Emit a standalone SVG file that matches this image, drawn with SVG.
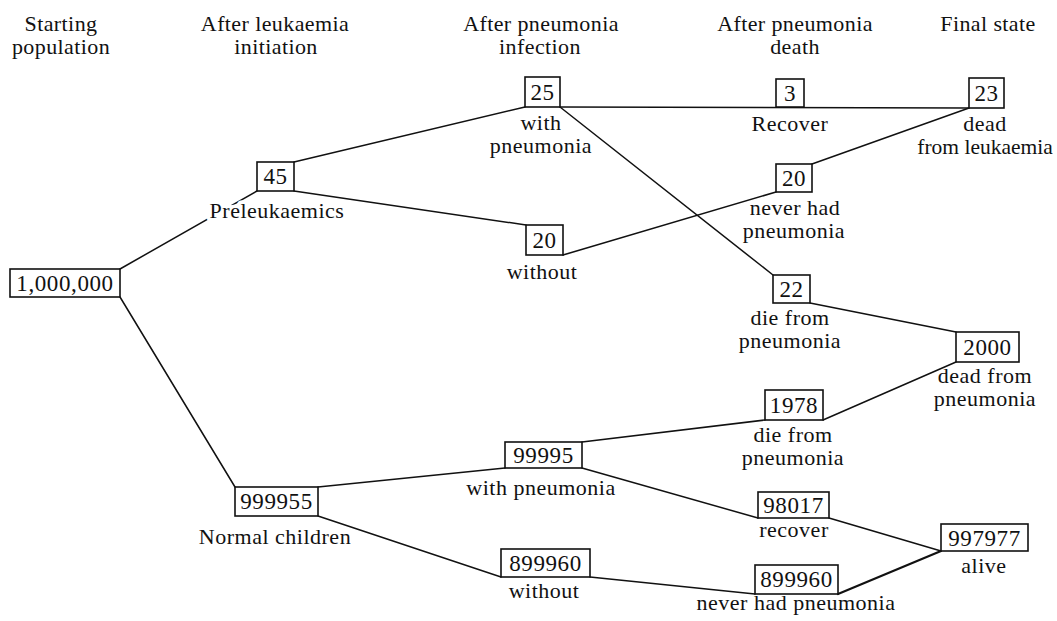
<svg xmlns="http://www.w3.org/2000/svg" width="1057" height="621" viewBox="0 0 1057 621">
<style>
text{font-family:"Liberation Serif","Times New Roman",serif;fill:#111;text-anchor:middle}
.h{font-size:22px;letter-spacing:0.4px}
.n{font-size:23px;letter-spacing:0.6px}
.l{font-size:22px;letter-spacing:0.5px}
.halo{paint-order:stroke;stroke:#fff;stroke-width:7px;stroke-linejoin:round}
rect{fill:#fff;stroke:#111;stroke-width:1.6}
#edges line{stroke:#111;stroke-width:1.5;stroke-linecap:round}
</style>
<rect x="0" y="0" width="1057" height="621" style="fill:#fff;stroke:none"/>
<g id="headers">
<text class="h" x="61" y="31">Starting</text>
<text class="h" x="61" y="54">population</text>
<text class="h" x="275" y="31">After leukaemia</text>
<text class="h" x="276" y="54">initiation</text>
<text class="h" x="541" y="31">After pneumonia</text>
<text class="h" x="540" y="54">infection</text>
<text class="h" x="795" y="31">After pneumonia</text>
<text class="h" x="795" y="54">death</text>
<text class="h" x="988" y="31">Final state</text>
</g>
<g id="edges">
<line x1="120" y1="269" x2="257" y2="191"/>
<line x1="120" y1="297" x2="235" y2="487"/>
<line x1="294" y1="162" x2="525" y2="107"/>
<line x1="294" y1="191" x2="526" y2="225"/>
<line x1="563" y1="255" x2="776" y2="192"/>
<line x1="560" y1="107" x2="969" y2="108"/>
<line x1="560" y1="107" x2="773" y2="275"/>
<line x1="812" y1="164" x2="969" y2="108"/>
<line x1="810" y1="303" x2="956" y2="332"/>
<line x1="318" y1="487" x2="505" y2="468"/>
<line x1="318" y1="516" x2="501" y2="577"/>
<line x1="582" y1="442" x2="765" y2="420"/>
<line x1="582" y1="468" x2="758" y2="518"/>
<line x1="823" y1="420" x2="956" y2="362"/>
<line x1="829" y1="518" x2="941" y2="551"/>
<line x1="590" y1="577" x2="755" y2="594"/>
<line x1="838" y1="594" x2="941" y2="551" style="stroke-width:2.2"/>
</g>
<g id="n1"><rect x="10" y="269" width="110" height="28"/><text class="n" x="65" y="291">1,000,000</text></g>
<g id="n2"><rect x="257" y="162" width="37" height="29"/><text class="n" x="275.5" y="184">45</text><text class="l halo" x="277" y="218">Preleukaemics</text></g>
<g id="n3"><rect x="235" y="487" width="83" height="29"/><text class="n" x="276.5" y="509">999955</text><text class="l" x="275" y="544">Normal children</text></g>
<g id="n4"><rect x="525" y="77" width="35" height="30"/><text class="n" x="542.5" y="100">25</text><text class="l" x="541" y="130">with</text><text class="l" x="541" y="153">pneumonia</text></g>
<g id="n5"><rect x="526" y="225" width="37" height="30"/><text class="n" x="544.5" y="248">20</text><text class="l" x="542" y="279">without</text></g>
<g id="n6"><rect x="505" y="442" width="77" height="26"/><text class="n" x="543.5" y="463">99995</text><text class="l" x="541" y="495">with pneumonia</text></g>
<g id="n7"><rect x="501" y="549" width="89" height="28"/><text class="n" x="545.5" y="571">899960</text><text class="l" x="544" y="598">without</text></g>
<g id="n8"><rect x="776" y="79" width="28" height="28"/><text class="n" x="790" y="101">3</text><text class="l" x="790" y="131">Recover</text></g>
<g id="n9"><rect x="776" y="164" width="36" height="28"/><text class="n" x="794" y="186">20</text><text class="l" x="795" y="215">never had</text><text class="l" x="794" y="238">pneumonia</text></g>
<g id="n10"><rect x="773" y="275" width="37" height="28"/><text class="n" x="791.5" y="297">22</text><text class="l" x="790" y="325">die from</text><text class="l" x="790" y="348">pneumonia</text></g>
<g id="n11"><rect x="765" y="390" width="58" height="30"/><text class="n" x="794" y="413">1978</text><text class="l" x="793" y="442">die from</text><text class="l" x="793" y="465">pneumonia</text></g>
<g id="n12"><rect x="758" y="492" width="71" height="26"/><text class="n" x="793.5" y="513">98017</text><text class="l" x="794" y="537">recover</text></g>
<g id="n13"><rect x="755" y="565" width="83" height="29"/><text class="n" x="796.5" y="587">899960</text><text class="l" x="796" y="610">never had pneumonia</text></g>
<g id="n14"><rect x="969" y="78" width="35" height="30"/><text class="n" x="986.5" y="101">23</text><text class="l" x="985" y="131">dead</text><text x="985" y="154" style="font-size:21.5px">from leukaemia</text></g>
<g id="n15"><rect x="956" y="332" width="63" height="30"/><text class="n" x="987.5" y="355">2000</text><text class="l" x="985" y="383">dead from</text><text class="l" x="985" y="406">pneumonia</text></g>
<g id="n16"><rect x="941" y="524" width="87" height="27"/><text class="n" x="984.5" y="546">997977</text><text class="l" x="984" y="573">alive</text></g>
</svg>
